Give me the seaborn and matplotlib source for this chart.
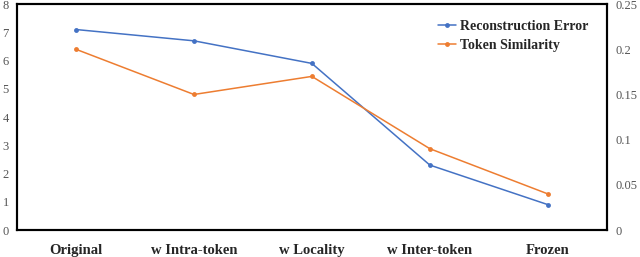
import matplotlib
matplotlib.use("Agg")
import matplotlib.pyplot as plt
import seaborn as sns
import pandas as pd

categories = ["Original", "w Intra-token", "w Locality", "w Inter-token", "Frozen"]
recon_error = [7.1, 6.7, 5.9, 2.3, 0.9]
token_sim = [0.20, 0.15, 0.17, 0.09, 0.04]

sns.set_style("white")
plt.rcParams['font.family'] = ['Liberation Serif', 'DejaVu Serif']

df = pd.DataFrame({"cat": categories, "x": range(len(categories)),
                   "err": recon_error, "sim": token_sim})

fig = plt.figure(figsize=(6.4, 2.57), dpi=100)
ax = fig.add_axes([0.0266, 0.105, 0.9214, 0.879])
ax2 = ax.twinx()

blue = "#4472C4"
orange = "#ED7D31"
sns.lineplot(data=df, x="x", y="err", ax=ax, color=blue, marker="o",
             markersize=3.5, markeredgewidth=0, linewidth=1.1,
             label="Reconstruction Error", legend=False)
sns.lineplot(data=df, x="x", y="sim", ax=ax2, color=orange, marker="o",
             markersize=3.5, markeredgewidth=0, linewidth=1.1,
             label="Token Similarity", legend=False)

ax.set_xlim(-0.5, len(categories) - 0.5)
ax.set_ylim(0, 8)
ax2.set_ylim(0, 0.25)
ax.set_xticks(range(len(categories)))
ax.set_xticklabels(categories, fontweight="bold", fontsize=10.5)
ax.set_yticks(range(0, 9))
ax.set_yticklabels([str(i) for i in range(0, 9)])
ax2.set_yticks([0, 0.05, 0.1, 0.15, 0.2, 0.25])
ax2.set_yticklabels(["0", "0.05", "0.1", "0.15", "0.2", "0.25"])
for a in (ax, ax2):
    a.set_xlabel("")
    a.set_ylabel("")
    a.tick_params(axis="both", length=0)
    a.tick_params(axis="y", labelsize=9, labelcolor="#555555")
    for s in a.spines.values():
        s.set_color("black")
        s.set_linewidth(1.5)
ax.tick_params(axis="y", pad=6)
ax2.tick_params(axis="y", pad=6)
ax.tick_params(axis="x", pad=10)

h1, l1 = ax.get_legend_handles_labels()
h2, l2 = ax2.get_legend_handles_labels()
ax.legend(h1 + h2, l1 + l2, loc="upper right", frameon=False,
          prop={"weight": "bold", "size": 10}, handlelength=1.3,
          handletextpad=0.3, labelspacing=0.4, bbox_to_anchor=(0.99, 0.985))

fig.savefig("out.png", dpi=100)
